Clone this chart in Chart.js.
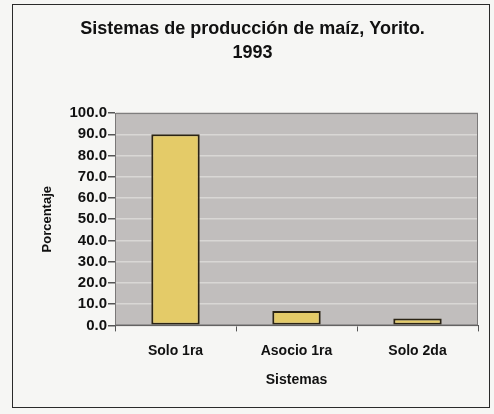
<!DOCTYPE html>
<html>
<head>
<meta charset="utf-8">
<script src="https://cdn.jsdelivr.net/npm/chart.js@4"></script>
<style>
  html, body { margin: 0; padding: 0; background: #f6f6f4; }
  #frame {
    position: absolute; left: 12px; top: 4px;
    width: 476px; height: 402px;
    border: 1.5px solid #2a2a2a;
  }
</style>
</head>
<body>
<div id="frame"><canvas id="chart"></canvas></div>
<script>
const sistemas = ['Solo 1ra', 'Asocio 1ra', 'Solo 2da'];
const porcentaje = [90.0, 6.8, 3.2];
const yTicks = [0, 10, 20, 30, 40, 50, 60, 70, 80, 90, 100];

const font = { family: 'Liberation Sans, Arial, sans-serif', weight: 'bold' };

// gray plot area with a darker outline, like the old spreadsheet charts
const plotBackground = {
  id: 'plotBackground',
  beforeDraw(chart) {
    const { ctx, chartArea: a } = chart;
    ctx.save();
    ctx.fillStyle = '#c1bebd';
    ctx.fillRect(a.left, a.top, a.right - a.left, a.bottom - a.top);
    ctx.restore();
  },
  afterDatasetsDraw(chart) {
    const { ctx, chartArea: a } = chart;
    ctx.save();
    ctx.strokeStyle = '#7a7878';
    ctx.lineWidth = 1;
    ctx.strokeRect(a.left + 0.5, a.top + 0.5, a.right - a.left - 1, a.bottom - a.top - 1);
    ctx.restore();
  }
};

new Chart(document.getElementById('chart'), {
  type: 'bar',
  data: {
    labels: sistemas,
    datasets: [{
      data: porcentaje,
      backgroundColor: '#e4cb68',
      borderColor: '#2b2414',
      borderWidth: 2,
      borderSkipped: false,
      barPercentage: 0.4,
      categoryPercentage: 1.0
    }]
  },
  options: {
    responsive: true,
    maintainAspectRatio: false,
    animation: false,
    layout: { padding: { left: 14, right: 11, top: 0, bottom: 18 } },
    plugins: {
      legend: { display: false },
      tooltip: { enabled: false },
      title: {
        display: true,
        text: ['Sistemas de producción de maíz, Yorito.', '1993'],
        color: '#111',
        font: { ...font, size: 18, lineHeight: 1.28 },
        padding: { top: 13, bottom: 49 }
      }
    },
    scales: {
      x: {
        grid: { display: true, drawOnChartArea: false, offset: true, tickLength: 6, tickColor: '#555' },
        border: { color: '#555' },
        ticks: { color: '#111', font: { ...font, size: 14 }, padding: 11 },
        title: { display: true, text: 'Sistemas', color: '#111', font: { ...font, size: 14 }, padding: { top: 2, bottom: 0 } }
      },
      y: {
        min: 0,
        max: 100,
        afterBuildTicks(scale) { scale.ticks = yTicks.map(v => ({ value: v })); },
        afterFit(scale) { scale.width = 88; },
        grid: { color: '#d9d7d5', lineWidth: 1.5, tickLength: 7, tickColor: '#555' },
        border: { color: '#555' },
        ticks: {
          autoSkip: false,
          color: '#111',
          font: { ...font, size: 15 },
          padding: 1,
          callback: v => v.toFixed(1)
        },
        title: { display: true, text: 'Porcentaje', color: '#111', font: { ...font, size: 13 }, padding: { top: 13, bottom: 7 } }
      }
    }
  },
  plugins: [plotBackground]
});
</script>
</body>
</html>
